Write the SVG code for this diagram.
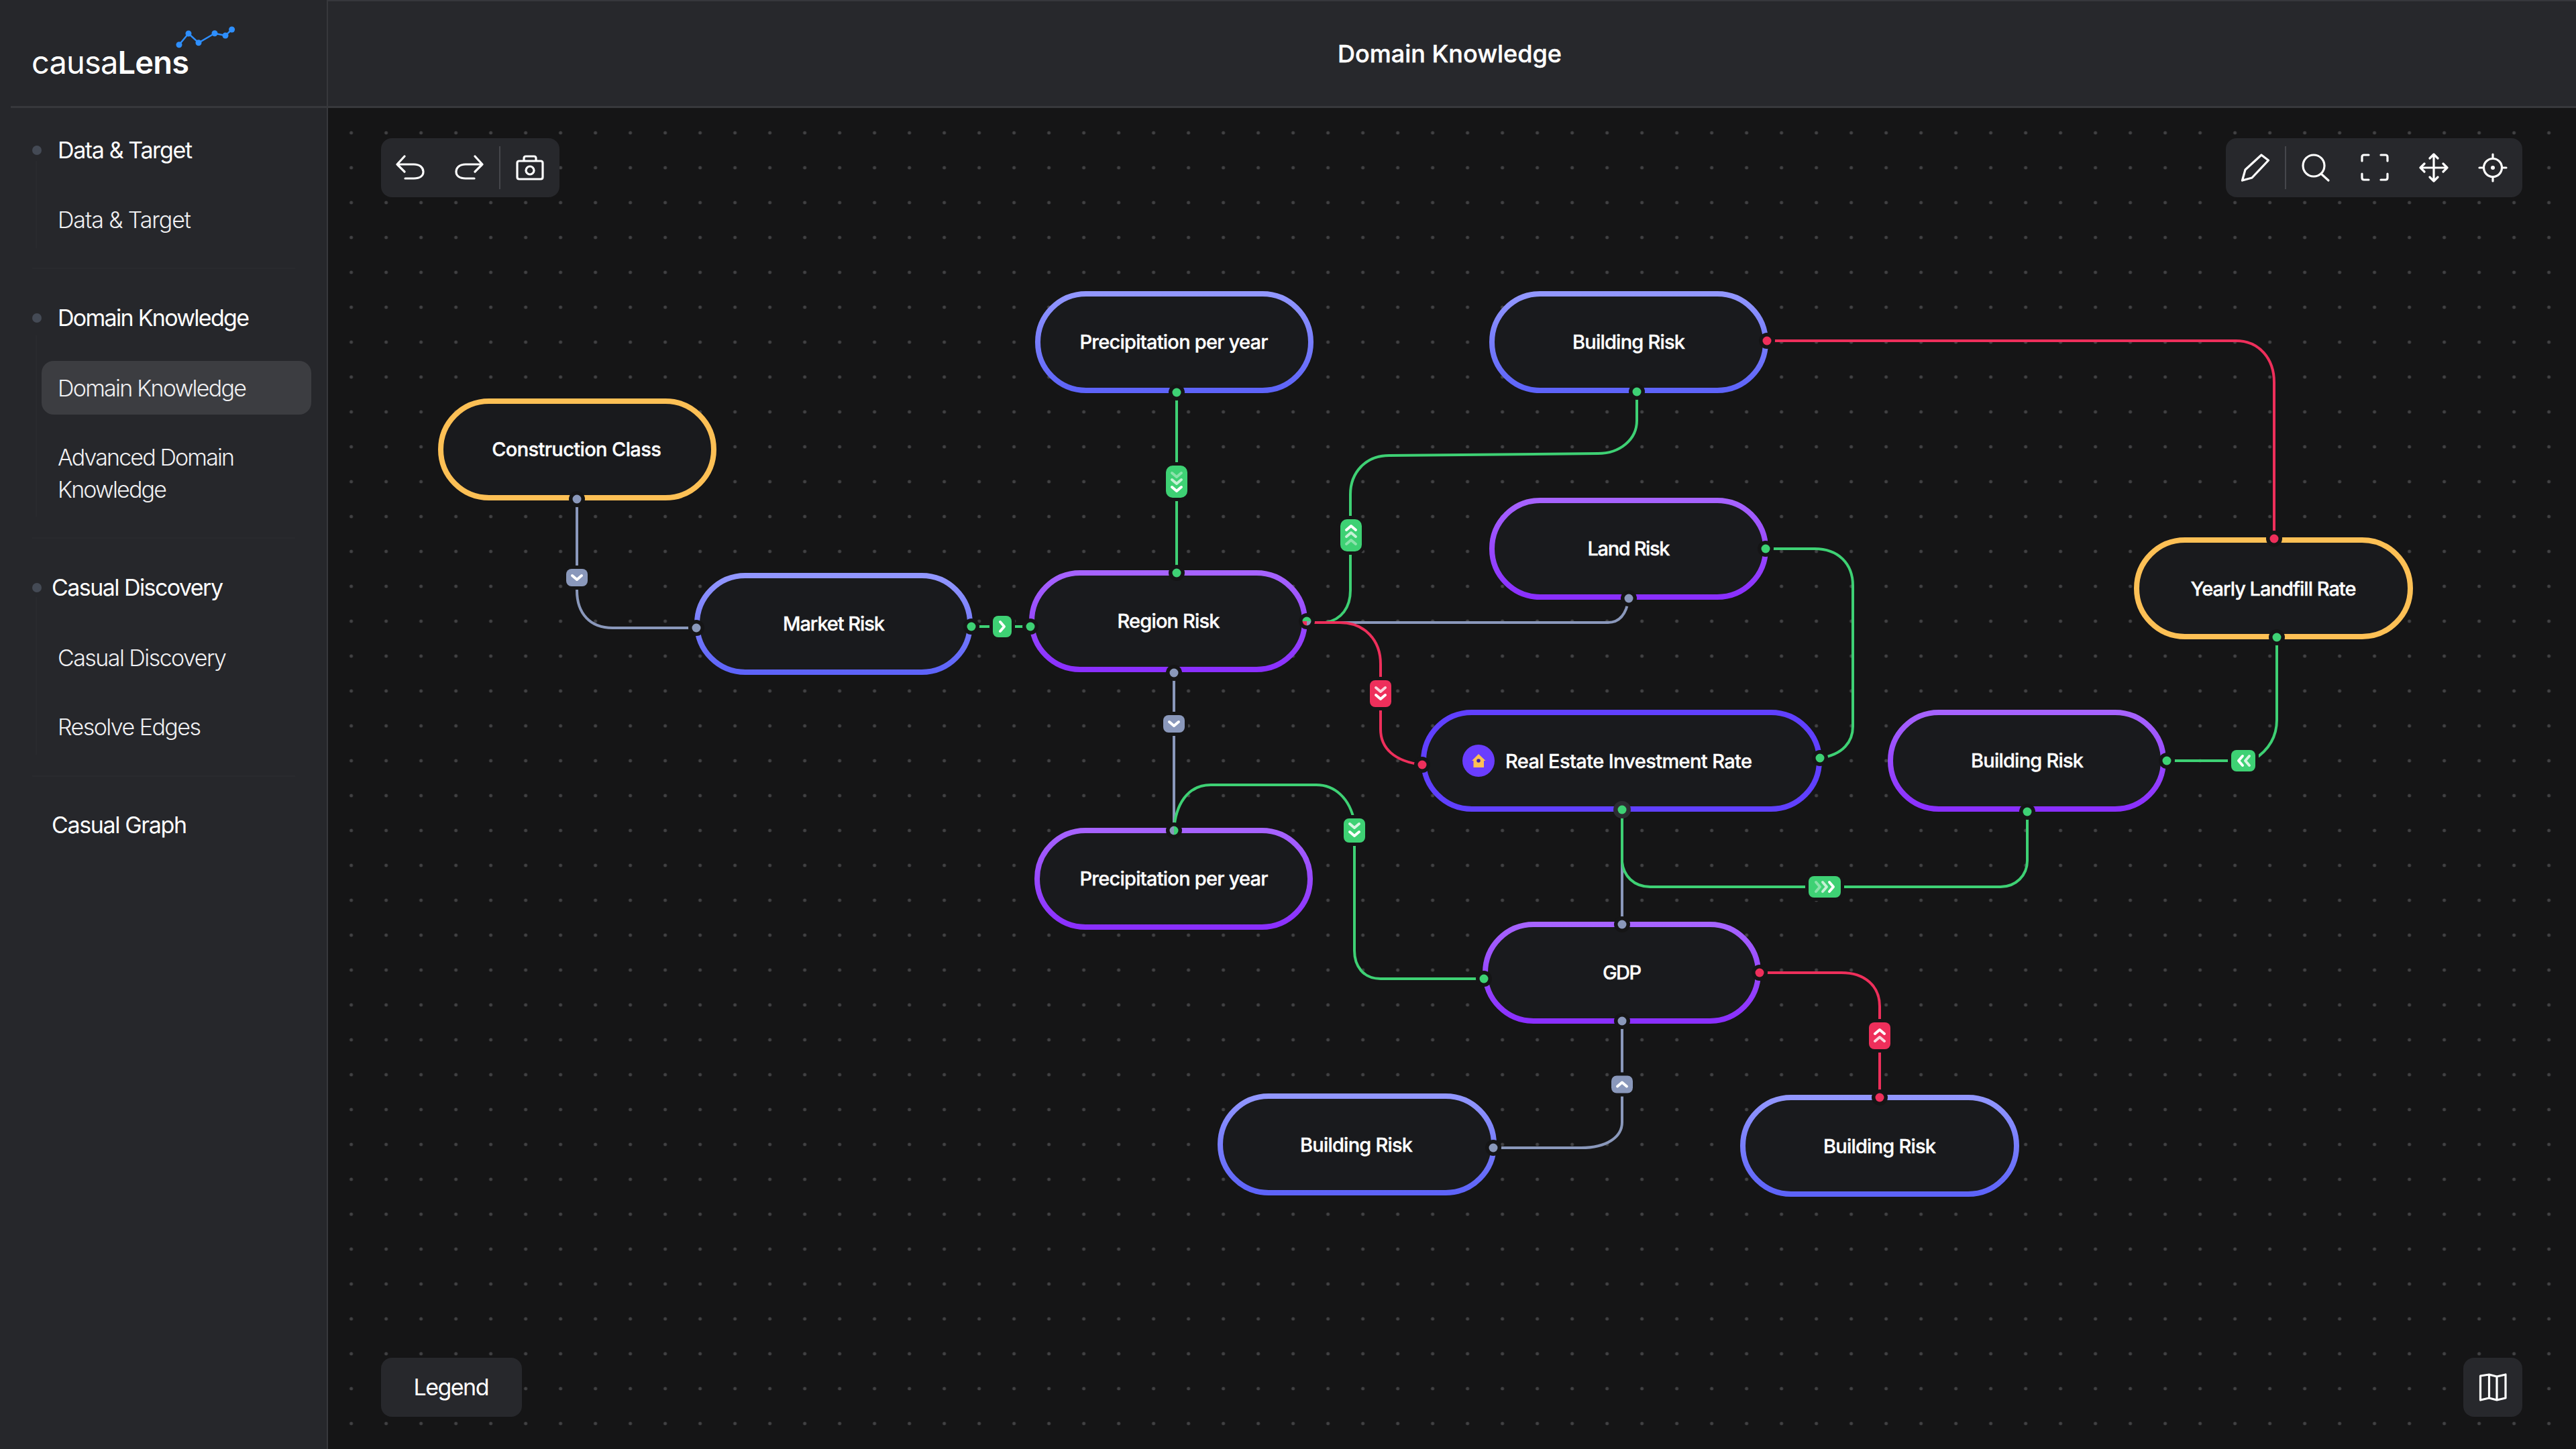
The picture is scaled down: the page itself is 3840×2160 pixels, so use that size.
<svg xmlns="http://www.w3.org/2000/svg" xmlns:xlink="http://www.w3.org/1999/xlink" width="3840" height="2160" viewBox="0 0 3840 2160">
<style>
text{font-family:"Inter","Liberation Sans",sans-serif;fill:#fff}
.nt{font-size:29px;font-weight:500;text-anchor:middle;stroke:#fff;stroke-width:.35px}
.sh{font-size:34px;font-weight:400}
.si{font-size:34px;font-weight:300;fill:#f0f0f2}
.node{fill:#191a1d;stroke-width:8}
.halo{fill:#151516}
.gr{fill:#3ed174}.rd{fill:#ee2f5b}.gy{fill:#8a98bb}
.e{fill:none;stroke-width:4}
.eg{stroke:#3ed174}.er{stroke:#ee2f5b}.ey{stroke:#8a98bb}
.b rect{stroke:#151516;stroke-width:10;paint-order:stroke}
.b use{fill:none;stroke:#fff;stroke-width:4;stroke-linecap:round;stroke-linejoin:round}
.ic{fill:none;stroke:#fff;stroke-width:3.2;stroke-linecap:round;stroke-linejoin:round}
.tb{fill:#27282c}
</style>
<defs>
<pattern id="dots" patternUnits="userSpaceOnUse" x="497.6" y="172" width="52" height="52"><circle cx="26" cy="26" r="2.5" fill="#414143"/></pattern>
<linearGradient id="gB" x1="0" y1="0" x2="0" y2="1"><stop offset="0" stop-color="#9297ff"/><stop offset="1" stop-color="#5d63f9"/></linearGradient>
<linearGradient id="gP" x1="0" y1="0" x2="0" y2="1"><stop offset="0" stop-color="#a663ff"/><stop offset="1" stop-color="#8a2fff"/></linearGradient>
<path id="c" d="M-7 -3 L0 3 L7 -3"/>
</defs>

<rect width="3840" height="2160" fill="#151516"/>
<rect x="489" y="161" width="3351" height="1999" fill="url(#dots)"/>

<g id="header">
<rect x="488" y="0" width="3352" height="159" fill="#27282c"/>
<rect x="488" y="0" width="3352" height="2" fill="#36373c"/>
<text x="2161" y="93" font-size="36" font-weight="500" stroke="#fff" stroke-width=".4" text-anchor="middle" textLength="334">Domain Knowledge</text>
</g>

<g id="sidebar">
<rect x="0" y="0" width="487" height="2160" fill="#26272b"/>
<rect x="487" y="0" width="2" height="2160" fill="#37383c"/>
<rect x="16" y="158" width="3824" height="3" fill="#37383c"/>
<g id="logo">
<polyline points="267,66.7 281,50 296,63.7 320,49.7 336,53 345.6,44" fill="none" stroke="#2e8fff" stroke-width="2.4"/>
<g fill="#2e8fff"><circle cx="267" cy="66.7" r="4.5"/><circle cx="281" cy="50" r="4.5"/><circle cx="296" cy="63.7" r="4.5"/><circle cx="320" cy="49.7" r="4.5"/><circle cx="336" cy="53" r="4.5"/><circle cx="345.6" cy="44" r="4.5"/></g>
<text x="47" y="110" font-size="47" textLength="235"><tspan font-weight="400">causa</tspan><tspan font-weight="600">Lens</tspan></text>
</g>
<g fill="none" stroke="#292a2e" stroke-width="2">
<path d="M54 240V370M54 500V770M54 890V1125"/>
<path d="M48 400H440M48 802H440M48 1157H440"/>
</g>
<g fill="#444a55"><circle cx="55" cy="224" r="7"/><circle cx="55" cy="474" r="7"/><circle cx="55" cy="876" r="7"/></g>
<rect x="62" y="538" width="402" height="80" rx="18" fill="#3c3d41"/>
<text class="sh" x="86" y="236" textLength="201">Data &amp; Target</text>
<text class="si" x="86" y="340" textLength="199">Data &amp; Target</text>
<text class="sh" x="86" y="486" textLength="286">Domain Knowledge</text>
<text class="si" x="86" y="590.5" textLength="282">Domain Knowledge</text>
<text class="si" x="86" y="694" textLength="264">Advanced Domain</text>
<text class="si" x="86" y="742" textLength="163">Knowledge</text>
<text class="sh" x="77" y="888" textLength="256">Casual Discovery</text>
<text class="si" x="86" y="992.5" textLength="252">Casual Discovery</text>
<text class="si" x="86" y="1095.5" textLength="214">Resolve Edges</text>
<text class="sh" x="77" y="1242" textLength="202">Casual Graph</text>
</g>

<g id="toolbar-left">
<rect class="tb" x="568" y="206" width="266" height="88" rx="16"/>
<rect x="744" y="218" width="2" height="64" fill="#45464b"/>
<path class="ic" d="M603 233L592 245L603 256M592 245H617C626 245 631 250 631 256C631 262 626 266 617 266H604"/>
<path class="ic" d="M708 233L719 245L708 256M719 245H694C685 245 680 250 680 256C680 262 685 266 694 266H707"/>
<path class="ic" d="M774 240H806Q809 240 809 243V264Q809 267 806 267H774Q771 267 771 264V243Q771 240 774 240ZM781 240V236Q781 233 784 233H796Q799 233 799 236V240"/>
<circle class="ic" cx="790" cy="254" r="6"/>
</g>

<g id="toolbar-right">
<rect class="tb" x="3318" y="206" width="442" height="88" rx="16"/>
<rect x="3406" y="218" width="2" height="64" fill="#45464b"/>
<path class="ic" d="M3342.5 269L3347 253L3371 231L3381.5 239L3357 265Z"/>
<circle class="ic" cx="3449" cy="247" r="16"/><path class="ic" d="M3460 259L3471 269"/>
<path class="ic" d="M3521 240V234Q3521 231 3524 231H3531M3549 231H3556Q3559 231 3559 234V240M3559 259V265Q3559 268 3556 268H3549M3531 268H3524Q3521 268 3521 265V259"/>
<path class="ic" d="M3628 230V270M3608 250H3648M3622 236L3628 230L3634 236M3622 264L3628 270L3634 264M3614 244L3608 250L3614 256M3642 244L3648 250L3642 256"/>
<circle class="ic" cx="3716" cy="250" r="13.5"/><path class="ic" d="M3716 230V236M3716 264V270M3696 250H3702M3730 250H3736"/><circle cx="3716" cy="250" r="3" fill="#fff"/>
</g>

<g id="legend">
<rect class="tb" x="568" y="2024" width="210" height="88" rx="16"/>
<text x="673" y="2080" font-size="34" font-weight="400" text-anchor="middle" textLength="113">Legend</text>
</g>
<g id="map-button">
<rect class="tb" x="3672" y="2024" width="88" height="88" rx="16"/>
<path class="ic" d="M3697.5 2051L3710.5 2049L3722 2052L3735 2049V2084L3722 2087L3710.5 2084L3697.5 2087ZM3710.5 2049V2084M3722 2052V2087"/>
</g>

<g id="connectors">
<path class="e ey" d="M860 744V880C860 915 880 936 913 936H1038"/>
<path class="e eg" d="M1448 934H1536"/>
<path class="e eg" d="M1754 585V854"/>
<path class="e eg" d="M1948 928H1976C2000 924 2013 905 2013 880V737C2013 705 2035 679 2071 679L2382 676C2415 676 2440 655 2440 627V584"/>
<path class="e ey" d="M1948 928H2397C2412 928 2424 918 2428 892"/>
<path class="e er" d="M1948 928H1997C2035 928 2058 955 2058 990V1087C2058 1115 2078 1135 2120 1140"/>
<path class="e ey" d="M1750 1003V1238"/>
<path class="e eg" d="M1750 1238C1752 1200 1770 1170 1805 1170H1962C1990 1170 2012 1190 2019 1225V1417C2019 1440 2032 1459 2058 1459H2212"/>
<path class="e ey" d="M2418 1207V1378"/>
<path class="e eg" d="M2418 1207V1285C2420 1305 2435 1322 2460 1322H2982C3005 1322 3022 1305 3022 1283V1210"/>
<path class="e eg" d="M2632 818H2705C2740 818 2762 840 2762 873V1083C2762 1105 2748 1125 2713 1130"/>
<path class="e er" d="M2634 508H3333C3368 508 3390 535 3390 570V803"/>
<path class="e eg" d="M3394 950V1073C3394 1098 3382 1118 3360 1132L3344 1134H3230"/>
<path class="e er" d="M2623 1450H2745C2780 1450 2802 1470 2802 1500V1636"/>
<path class="e ey" d="M2418 1522V1673C2418 1695 2395 1711 2357 1711H2226"/>

<g class="b"><rect class="gy" x="844" y="848" width="32" height="26" rx="8"/><use href="#c" x="860" y="861"/></g>
<g class="b"><rect class="gr" x="1480" y="918" width="28" height="32" rx="8"/><use href="#c" transform="translate(1494 934) rotate(-90)"/></g>
<g class="b"><rect class="gr" x="1738" y="694" width="32" height="48" rx="10"/><use href="#c" x="1754" y="708" opacity=".4"/><use href="#c" x="1754" y="718" opacity=".7"/><use href="#c" x="1754" y="729"/></g>
<g class="b"><rect class="gr" x="1998" y="774" width="32" height="48" rx="10"/><use href="#c" transform="translate(2014 787) rotate(180)"/><use href="#c" transform="translate(2014 797) rotate(180)" opacity=".7"/><use href="#c" transform="translate(2014 808) rotate(180)" opacity=".4"/></g>
<g class="b"><rect class="rd" x="2042" y="1014" width="32" height="40" rx="8"/><use href="#c" x="2058" y="1028" opacity=".8"/><use href="#c" x="2058" y="1039"/></g>
<g class="b"><rect class="gy" x="1734" y="1066" width="32" height="26" rx="8"/><use href="#c" x="1750" y="1079"/></g>
<g class="b"><rect class="gr" x="2003" y="1220" width="32" height="36" rx="8"/><use href="#c" x="2019" y="1231" opacity=".8"/><use href="#c" x="2019" y="1243"/></g>
<g class="b"><rect class="gr" x="2696" y="1306" width="48" height="32" rx="8"/><use href="#c" transform="translate(2710 1322) rotate(-90)" opacity=".4"/><use href="#c" transform="translate(2720 1322) rotate(-90)" opacity=".7"/><use href="#c" transform="translate(2730 1322) rotate(-90)"/></g>
<g class="b"><rect class="gr" x="3326" y="1118" width="36" height="32" rx="8"/><use href="#c" transform="translate(3340 1134) rotate(90)"/><use href="#c" transform="translate(3350 1134) rotate(90)" opacity=".8"/></g>
<g class="b"><rect class="rd" x="2786" y="1524" width="32" height="40" rx="8"/><use href="#c" transform="translate(2802 1538) rotate(180)"/><use href="#c" transform="translate(2802 1549) rotate(180)" opacity=".8"/></g>
<g class="b"><rect class="gy" x="2402" y="1603.5" width="32" height="26" rx="8"/><use href="#c" transform="translate(2418 1616.5) rotate(180)"/></g>
</g>

<g id="n-construction-class">
<rect class="node" x="657" y="598" width="407" height="144" rx="72" stroke="#fdc055"/>
<text class="nt" x="859.5" y="680" textLength="252.6">Construction Class</text>
<circle class="halo" cx="860" cy="744" r="12"/><circle class="gy" cx="860" cy="744" r="6.5"/>
</g>
<g id="n-market-risk">
<rect class="node" x="1039" y="858" width="407" height="144" rx="72" stroke="url(#gB)"/>
<text class="nt" x="1243" y="940" textLength="152">Market Risk</text>
<circle class="halo" cx="1038" cy="936" r="12"/><circle class="gy" cx="1038" cy="936" r="6.5"/>
<circle class="halo" cx="1448" cy="934" r="12"/><circle class="gr" cx="1448" cy="934" r="6.5"/>
</g>
<g id="n-region-risk">
<rect class="node" x="1538" y="854" width="407" height="144" rx="72" stroke="url(#gP)"/>
<text class="nt" x="1742" y="936" textLength="153">Region Risk</text>
<circle class="halo" cx="1536" cy="934" r="12"/><circle class="gr" cx="1536" cy="934" r="6.5"/>
<circle class="halo" cx="1754" cy="854" r="12"/><circle class="gr" cx="1754" cy="854" r="6.5"/>
<circle class="halo" cx="1750" cy="1003" r="12"/><circle class="gy" cx="1750" cy="1003" r="6.5"/>
<circle class="halo" cx="1948" cy="926" r="12"/>
<path class="gr" d="M1941.5 926A6.5 6.5 0 0 1 1954.5 926Z"/><path class="rd" d="M1948 926H1941.5A6.5 6.5 0 0 0 1948 932.5Z"/><path class="gy" d="M1948 926H1954.5A6.5 6.5 0 0 1 1948 932.5Z"/>
</g>
<g id="n-precipitation-top">
<rect class="node" x="1547" y="438" width="407" height="144" rx="72" stroke="url(#gB)"/>
<text class="nt" x="1750" y="520" textLength="281">Precipitation per year</text>
<circle class="halo" cx="1754" cy="585" r="12"/><circle class="gr" cx="1754" cy="585" r="6.5"/>
</g>
<g id="n-precipitation-bottom">
<rect class="node" x="1546" y="1238" width="407" height="144" rx="72" stroke="url(#gP)"/>
<text class="nt" x="1750" y="1320" textLength="281">Precipitation per year</text>
<circle class="halo" cx="1750" cy="1238" r="12"/>
<path class="gy" d="M1750 1231.500A6.500 6.500 0 0 0 1750 1244.500Z"/><path class="gr" d="M1750 1231.500A6.500 6.500 0 0 1 1750 1244.500Z"/>
</g>
<g id="n-building-risk-top">
<rect class="node" x="2224" y="438" width="408" height="144" rx="72" stroke="url(#gB)"/>
<text class="nt" x="2428" y="520" textLength="168">Building Risk</text>
<circle class="halo" cx="2634" cy="508" r="12"/><circle class="rd" cx="2634" cy="508" r="6.5"/>
<circle class="halo" cx="2440" cy="584" r="12"/><circle class="gr" cx="2440" cy="584" r="6.5"/>
</g>
<g id="n-land-risk">
<rect class="node" x="2224" y="746" width="408" height="144" rx="72" stroke="url(#gP)"/>
<text class="nt" x="2428" y="828" textLength="123">Land Risk</text>
<circle class="halo" cx="2632" cy="818" r="12"/><circle class="gr" cx="2632" cy="818" r="6.5"/>
<circle class="halo" cx="2428" cy="892" r="12"/><circle class="gy" cx="2428" cy="892" r="6.5"/>
</g>
<g id="n-real-estate">
<rect class="node" x="2122" y="1062" width="590" height="144" rx="72" stroke="#6040ff"/>
<circle cx="2204" cy="1134" r="24" fill="#6a3dff"/>
<path d="M2204 1124L2214.500 1134H2212V1144H2196.500V1134H2194Z" fill="#fdc055"/><circle cx="2204" cy="1134" r="2.800" fill="#3a1fb0"/>
<text class="nt" x="2428" y="1144.500" textLength="368">Real Estate Investment Rate</text>
<circle class="halo" cx="2120" cy="1140" r="12"/><circle class="rd" cx="2120" cy="1140" r="6.5"/>
<circle class="halo" cx="2713" cy="1130" r="12"/><circle class="gr" cx="2713" cy="1130" r="6.5"/>
<circle cx="2418" cy="1207" r="13" fill="#2c2d31"/><circle class="gr" cx="2418" cy="1207" r="6.5"/>
</g>
<g id="n-building-risk-mid">
<rect class="node" x="2818" y="1062" width="407" height="144" rx="72" stroke="url(#gP)"/>
<text class="nt" x="3022" y="1144" textLength="168">Building Risk</text>
<circle class="halo" cx="3230" cy="1134" r="12"/><circle class="gr" cx="3230" cy="1134" r="6.5"/>
<circle class="halo" cx="3022" cy="1210" r="12"/><circle class="gr" cx="3022" cy="1210" r="6.5"/>
</g>
<g id="n-yearly-landfill">
<rect class="node" x="3185" y="805" width="408" height="144" rx="72" stroke="#fdc055"/>
<text class="nt" x="3389" y="888" textLength="247">Yearly Landfill Rate</text>
<circle class="halo" cx="3390" cy="803" r="12"/><circle class="rd" cx="3390" cy="803" r="6.5"/>
<circle class="halo" cx="3394" cy="950" r="12"/><circle class="gr" cx="3394" cy="950" r="6.5"/>
</g>
<g id="n-gdp">
<rect class="node" x="2214" y="1378" width="407" height="144" rx="72" stroke="url(#gP)"/>
<text class="nt" x="2418" y="1460" textLength="58">GDP</text>
<circle class="halo" cx="2418" cy="1378" r="12"/><circle class="gy" cx="2418" cy="1378" r="6.5"/>
<circle class="halo" cx="2212" cy="1459" r="12"/><circle class="gr" cx="2212" cy="1459" r="6.5"/>
<circle class="halo" cx="2623" cy="1450" r="12"/><circle class="rd" cx="2623" cy="1450" r="6.5"/>
<circle class="halo" cx="2418" cy="1522" r="12"/><circle class="gy" cx="2418" cy="1522" r="6.5"/>
</g>
<g id="n-building-risk-left">
<rect class="node" x="1819" y="1634" width="408" height="144" rx="72" stroke="url(#gB)"/>
<text class="nt" x="2022" y="1716.500" textLength="168">Building Risk</text>
<circle class="halo" cx="2226" cy="1711" r="12"/><circle class="gy" cx="2226" cy="1711" r="6.5"/>
</g>
<g id="n-building-risk-right">
<rect class="node" x="2598" y="1636" width="408" height="144" rx="72" stroke="url(#gB)"/>
<text class="nt" x="2802" y="1718.500" textLength="168">Building Risk</text>
<circle class="halo" cx="2802" cy="1636" r="12"/><circle class="rd" cx="2802" cy="1636" r="6.5"/>
</g>
</svg>
